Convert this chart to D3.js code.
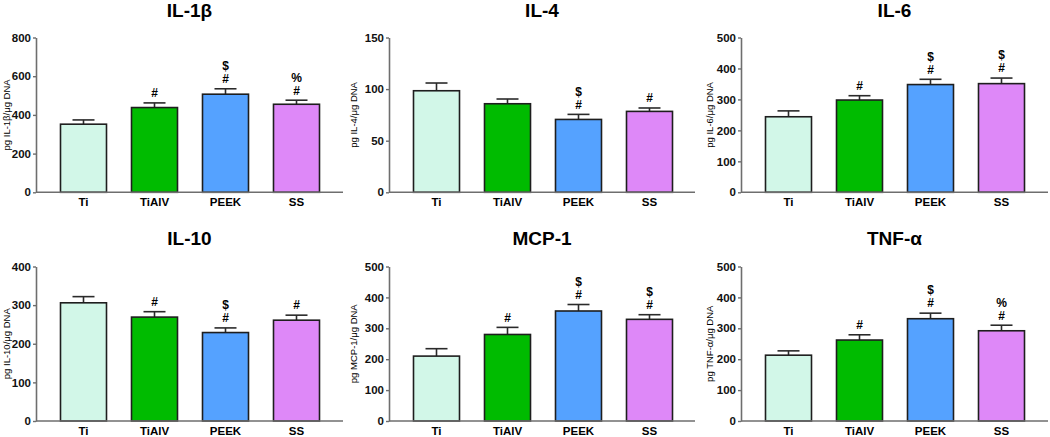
<!DOCTYPE html>
<html>
<head>
<meta charset="utf-8">
<script src="https://cdn.jsdelivr.net/npm/d3@7"></script>
<style>
  body { margin: 0; background: #fff; }
  svg { display: block; font-family: Arial, "Liberation Sans", sans-serif; }
</style>
</head>
<body>
<div id="chart"></div>
<script>
var groups = ["Ti", "TiAlV", "PEEK", "SS"];
var colors = ["#d2f7e8", "#00bb00", "#55a2ff", "#de88f8"];

var titles = ["IL-1\u03b2", "IL-4", "IL-6", "IL-10", "MCP-1", "TNF-\u03b1"];
var yLabels = ["pg IL-1\u03b2/\u03bcg DNA", "pg IL-4/\u03bcg DNA", "pg IL-6/\u03bcg DNA",
               "pg IL-10/\u03bcg DNA", "pg MCP-1/\u03bcg DNA", "pg TNF-\u03b1/\u03bcg DNA"];
var yMax = [800, 150, 500, 400, 500, 500];
var yStep = [200, 50, 100, 100, 100, 100];

var means = [
  [352, 438, 507, 455],
  [98.4, 85.8, 70.6, 78.4],
  [244, 298, 348, 351],
  [306, 269, 229, 261],
  [210, 280, 356, 329],
  [213, 262, 331, 292]
];
var sems = [
  [22, 24, 28, 21],
  [7.5, 4.6, 4.9, 3.3],
  [19, 14, 17, 18],
  [16, 14, 12, 13],
  [24, 23, 21, 15],
  [14, 17, 18, 18]
];
var marks = [
  ["", "#", "$#", "%#"],
  ["", "", "$#", "#"],
  ["", "#", "$#", "$#"],
  ["", "#", "$#", "#"],
  ["", "#", "$#", "$#"],
  ["", "#", "$#", "%#"]
];

var W = 1050, H = 437;
var colAxis = [36, 389, 741], colEnd = [343, 695, 1048], colLabel = [7, 354, 710];
var rowTop = [37.5, 266.5], rowBottom = [192.3, 421], rowTitle = [16.5, 245];

var svg = d3.select("#chart").append("svg")
  .attr("width", W)
  .attr("height", H);

titles.forEach(function(title, p){
  var col = p % 3, row = Math.floor(p / 3);
  var x0 = colAxis[col], x1 = colEnd[col];
  var g = svg.append("g");

  var y = d3.scaleLinear().domain([0, yMax[p]]).range([rowBottom[row], rowTop[row]]);
  var x = d3.scalePoint().domain(groups).range([x0 + 47.5, x0 + 47.5 + 71 * 3]);
  var bw = 46, cap = 22;

  // title
  g.append("text")
    .attr("x", (x0 + x1) / 2)
    .attr("y", rowTitle[row])
    .attr("text-anchor", "middle")
    .style("font-size", "19px")
    .style("font-weight", "bold")
    .text(title);

  // y label
  g.append("text")
    .attr("transform", "translate(" + colLabel[col] + "," + ((rowTop[row] + rowBottom[row]) / 2) + ") rotate(-90)")
    .attr("text-anchor", "middle")
    .attr("dy", "0.35em")
    .style("font-size", "9.5px")
    .text(yLabels[p]);

  // bars
  var rows = groups.map(function(k, i){
    return {k: k, m: means[p][i], e: sems[p][i], c: colors[i], s: marks[p][i]};
  });

  var err = g.selectAll(".err").data(rows).join("g")
    .attr("stroke", "#2a2a2a")
    .attr("stroke-width", 1.6);
  err.append("line")
    .attr("x1", d => x(d.k)).attr("x2", d => x(d.k))
    .attr("y1", d => y(d.m)).attr("y2", d => y(d.m + d.e));
  err.append("line")
    .attr("x1", d => x(d.k) - cap / 2).attr("x2", d => x(d.k) + cap / 2)
    .attr("y1", d => y(d.m + d.e)).attr("y2", d => y(d.m + d.e));

  g.selectAll("rect").data(rows).join("rect")
    .attr("x", d => x(d.k) - bw / 2)
    .attr("y", d => y(d.m))
    .attr("width", bw)
    .attr("height", d => y(0) - y(d.m))
    .attr("fill", d => d.c)
    .attr("stroke", "#1e1e1e")
    .attr("stroke-width", 1.6);

  // significance marks, stacked upward from the error cap
  rows.forEach(function(d){
    var chars = d.s.split("").reverse();
    chars.forEach(function(ch, j){
      g.append("text")
        .attr("x", x(d.k))
        .attr("y", y(d.m + d.e) - 10 - 13 * j)
        .attr("dy", "0.36em")
        .attr("text-anchor", "middle")
        .style("font-size", "12px")
        .style("font-weight", "bold")
        .text(ch);
    });
  });

  // axes
  var yAxis = g.append("g")
    .attr("transform", "translate(" + x0 + ",0)")
    .call(d3.axisLeft(y).tickValues(d3.range(0, yMax[p] + 1, yStep[p])).tickSize(3).tickPadding(2).tickSizeOuter(0));
  yAxis.select(".domain").attr("stroke", "#6e6e6e").attr("stroke-width", 1.6);
  yAxis.selectAll(".tick line").attr("stroke", "#6e6e6e").attr("stroke-width", 1.4);
  yAxis.selectAll(".tick text")
    .attr("fill", "#111")
    .style("font-size", "11.5px")
    .style("font-weight", "bold")
    .style("font-family", "Arial, 'Liberation Sans', sans-serif");

  g.append("line")
    .attr("x1", x0).attr("x2", x1)
    .attr("y1", y(0)).attr("y2", y(0))
    .attr("stroke", "#6e6e6e")
    .attr("stroke-width", 1.6);

  g.selectAll(".xl").data(groups).join("text")
    .attr("x", d => x(d))
    .attr("y", y(0) + 14)
    .attr("text-anchor", "middle")
    .style("font-size", "11.5px")
    .style("font-weight", "bold")
    .text(d => d);
});
</script>
</body>
</html>
